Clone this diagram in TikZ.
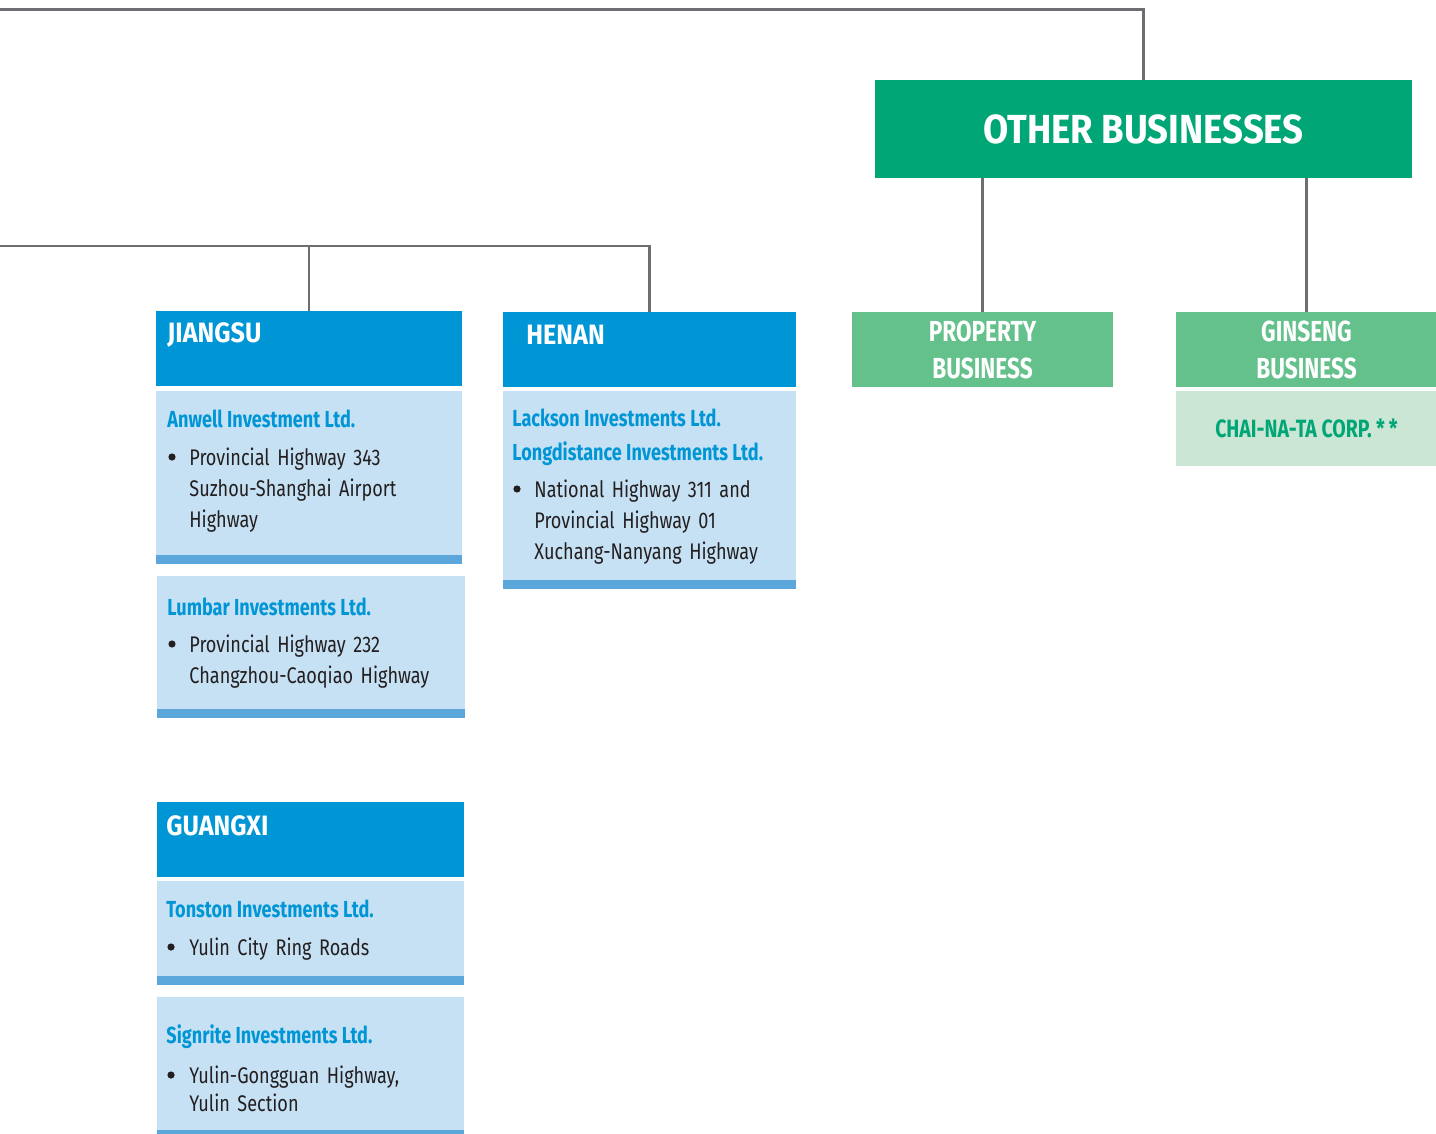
\documentclass[tikz,border=0pt]{standalone}
\usepackage{fontspec}
\setmainfont{Fira Sans}
\newfontfamily\headfont[FakeStretch=0.9]{Fira Sans}
\newfontfamily\namefont[FakeStretch=0.78]{Fira Sans}
\newfontfamily\bodyfont[FakeStretch=0.8]{Fira Sans}
\usepackage{tikz}
\definecolor{line_gray}{RGB}{109,110,113}
\definecolor{ob_green}{RGB}{0,166,118}
\definecolor{biz_green}{RGB}{100,193,140}
\definecolor{biz_pale}{RGB}{204,230,213}
\definecolor{prov_blue}{RGB}{0,150,214}
\definecolor{co_pale}{RGB}{198,225,244}
\definecolor{co_bar}{RGB}{91,166,218}
\definecolor{body_text}{RGB}{35,31,32}

\begin{document}
\begin{tikzpicture}[x=0.5pt,y=-0.5pt]
    \tikzstyle{box}=[rectangle, inner sep=0pt, outer sep=0pt, anchor=north west]
    \tikzstyle{prov}=[box, fill=prov_blue, minimum height=37.5pt]
    \tikzstyle{co}=[box, fill=co_pale, path picture={\fill[co_bar] (path picture bounding box.south west) rectangle ([yshift=4.5pt]path picture bounding box.south east);}]
    \tikzstyle{biz}=[box, fill=biz_green, text=white, align=center, minimum width=130.5pt, minimum height=37.5pt, font=\namefont\bfseries\fontsize{14.5}{18.5}\selectfont]
    \tikzstyle{link}=[draw=line_gray, line width=1.3pt]
    \tikzstyle{provtxt}=[anchor=base west, inner sep=0pt, text=white, font=\headfont\bfseries\fontsize{14}{14}\selectfont]
    \tikzstyle{coname}=[anchor=base west, inner sep=0pt, text=prov_blue, font=\namefont\bfseries\fontsize{11.6}{11.6}\selectfont]
    \tikzstyle{item}=[anchor=base west, inner sep=0pt, text=body_text, text width=140pt, align=left, font=\bodyfont\fontsize{11.3}{15.5}\selectfont]
    \tikzstyle{dot}=[circle, fill=body_text, inner sep=0pt, minimum size=3.6pt]

    \useasboundingbox (0,0) rectangle (1436,1134);

    % other businesses
    \node[box, fill=ob_green, minimum width=268.5pt, minimum height=49pt, text=white, font=\headfont\bfseries\fontsize{20.3}{20.3}\selectfont] (ob) at (875,80) {OTHER BUSINESSES};
    \node[biz] (prop) at (852,312) {PROPERTY\\BUSINESS};
    \node[biz] (gins) at (1176,312) {GINSENG\\BUSINESS};
    \node[box, fill=biz_pale, minimum width=130.5pt, minimum height=37.5pt, text=ob_green, font=\namefont\bfseries\fontsize{12.5}{12.5}\selectfont] (chai) at (1176,391) {CHAI-NA-TA CORP.\,*\,*};

    % provinces
    \node[prov, minimum width=153pt] (jiangsu) at (156,311) {};
    \node[co, minimum width=153pt, minimum height=86.5pt] (anwell) at (156,391) {};
    \node[co, minimum width=154pt, minimum height=71pt] (lumbar) at (157,576) {};
    \node[prov, minimum width=146.5pt] (henan) at (503,312) {};
    \node[co, minimum width=146.5pt, minimum height=99pt] (lackson) at (503,391) {};
    \node[prov, minimum width=153.5pt] (guangxi) at (157,802) {};
    \node[co, minimum width=153.5pt, minimum height=52pt] (tonston) at (157,881) {};
    \node[co, minimum width=153.5pt, minimum height=71pt] (signrite) at (157,997) {};

    \node[provtxt] (jiangsu_t) at (167,343) {JIANGSU};
    \node[provtxt] (henan_t) at (526,345) {HENAN};
    \node[provtxt] (guangxi_t) at (166,835) {GUANGXI};

    \node[coname] (anwell_n) at (167,428) {Anwell Investment Ltd.};
    \node[dot] (anwell_d) at (172,457) {};
    \node[item] (anwell_t) at (189,466) {Provincial Highway 343\\Suzhou-Shanghai Airport\\Highway};

    \node[coname] (lumbar_n) at (167,615) {Lumbar Investments Ltd.};
    \node[dot] (lumbar_d) at (172,644) {};
    \node[item] (lumbar_t) at (189,652) {Provincial Highway 232\\Changzhou-Caoqiao Highway};

    \node[coname] (lackson_n) at (512,426) {Lackson Investments Ltd.};
    \node[coname] (longd_n) at (512,460) {Longdistance Investments Ltd.};
    \node[dot] (lackson_d) at (517,489) {};
    \node[item] (lackson_t) at (534,497) {National Highway 311 and\\Provincial Highway 01\\Xuchang-Nanyang Highway};

    \node[coname] (tonston_n) at (166,917) {Tonston Investments Ltd.};
    \node[dot] (tonston_d) at (171,947) {};
    \node[item] (tonston_t) at (189,955) {Yulin City Ring Roads};

    \node[coname] (signrite_n) at (166,1043) {Signrite Investments Ltd.};
    \node[dot] (signrite_d) at (171,1075) {};
    \node[item, font=\bodyfont\fontsize{11.3}{14}\selectfont] (signrite_t) at (189,1083) {Yulin-Gongguan Highway,\\Yulin Section};

    % connectors
    \coordinate (topL) at (0,9.5);
    \coordinate (midL) at (0,246);
    \draw[link] (topL) -| (ob.north);
    \draw[link] (midL) -| (henan.north);
    \draw[link] (jiangsu.north) -- (jiangsu.north |- midL);
    \draw[link] (ob.south -| prop.north) -- (prop.north);
    \draw[link] (ob.south -| gins.north) -- (gins.north);
\end{tikzpicture}
\end{document}
